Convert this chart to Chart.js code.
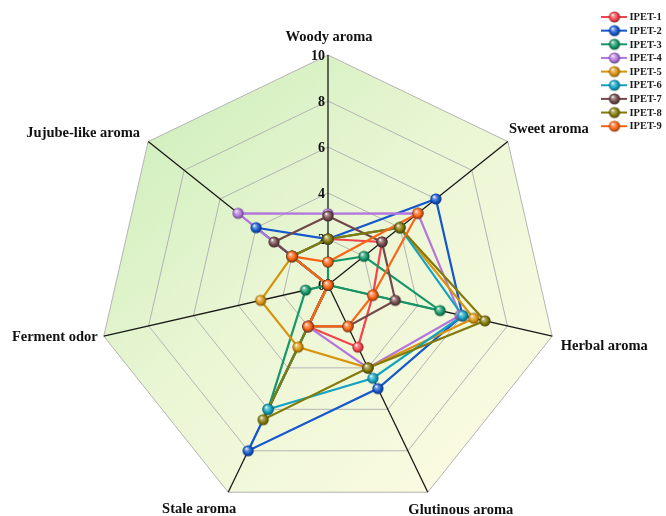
<!DOCTYPE html>
<html>
<head>
<meta charset="utf-8">
<script src="https://cdn.jsdelivr.net/npm/chart.js@4.4.1/dist/chart.umd.min.js"></script>
<style>
  html, body { margin: 0; padding: 0; background: #ffffff; }
  #wrap { position: relative; width: 666px; height: 516px; }
</style>
</head>
<body>
<div id="wrap"><canvas id="radar"></canvas></div>
<script>
// Sensory attributes (clockwise from the top)
const attributes = ['Woody aroma', 'Sweet aroma', 'Herbal aroma', 'Glutinous aroma', 'Stale aroma', 'Ferment odor', 'Jujube-like aroma'];
const tickValues = [0, 2, 4, 6, 8, 10];
const sampleNames = ['IPET-1', 'IPET-2', 'IPET-3', 'IPET-4', 'IPET-5', 'IPET-6', 'IPET-7', 'IPET-8', 'IPET-9'];

// Intensity scores, one value per attribute
const ipet1 = [2, 3, 2, 3, 2, 0, 2];
const ipet2 = [2, 6, 6, 5, 8, 0, 4];
const ipet3 = [1, 2, 5, 0, 6, 1, 0];
const ipet4 = [3.1, 5, 5.9, 4, 2, 0, 5];
const ipet5 = [2, 4, 6.5, 4, 3, 3, 2];
const ipet6 = [2, 4, 6, 4.5, 6, 0, 2];
const ipet7 = [3, 3, 3, 2, 2, 0, 3];
const ipet8 = [2, 4, 7, 4, 6.5, 0, 2];
const ipet9 = [1, 5, 2, 2, 2, 0, 2];
const seriesValues = [ipet1, ipet2, ipet3, ipet4, ipet5, ipet6, ipet7, ipet8, ipet9];

const seriesColors = ['#f2444c', '#1558cc', '#16976a', '#b276dc', '#d8930c', '#12a3c2', '#72494b', '#837a0a', '#fb6516'];

function mix(hex, target, t) {
  const n = parseInt(hex.slice(1), 16);
  const r = (n >> 16) & 255, g = (n >> 8) & 255, b = n & 255;
  const m = v => Math.round(v + (target - v) * t);
  return 'rgb(' + m(r) + ',' + m(g) + ',' + m(b) + ')';
}

// Glossy ball marker
function makeBall(color, r) {
  const s = Math.ceil(r * 2 + 2);
  const cv = document.createElement('canvas');
  cv.width = s; cv.height = s;
  const g = cv.getContext('2d');
  const c = s / 2;
  const grad = g.createRadialGradient(c - r * 0.35, c - r * 0.4, r * 0.05, c, c, r);
  grad.addColorStop(0, '#ffffff');
  grad.addColorStop(0.22, mix(color, 255, 0.45));
  grad.addColorStop(0.65, color);
  grad.addColorStop(1, mix(color, 0, 0.45));
  g.fillStyle = grad;
  g.beginPath(); g.arc(c, c, r, 0, Math.PI * 2); g.fill();
  return cv;
}
const balls = seriesColors.map(c => makeBall(c, 5.6));

const lineSets = seriesValues.map((vals, i) => ({
  label: sampleNames[i],
  data: vals,
  borderColor: seriesColors[i],
  backgroundColor: 'rgba(0,0,0,0)',
  borderWidth: 2.2,
  fill: false,
  pointRadius: 0,
  pointHoverRadius: 0,
  order: 20 - i
}));
const markerSets = seriesValues.map((vals, i) => ({
  label: sampleNames[i] + ' points',
  data: vals,
  showLine: false,
  fill: false,
  borderColor: seriesColors[i],
  backgroundColor: 'rgba(0,0,0,0)',
  pointBackgroundColor: seriesColors[i],
  pointStyle: balls[i],
  pointRadius: 6,
  pointHoverRadius: 6,
  order: 10 - i
}));

const serif = '"Liberation Serif", "Times New Roman", serif';

// Pale green-to-yellow backdrop inside the outer ring
const backdrop = {
  id: 'backdrop',
  beforeDraw(chart) {
    const s = chart.scales.r, ctx = chart.ctx;
    const n = attributes.length;
    const pts = [];
    for (let i = 0; i < n; i++) pts.push(s.getPointPosition(i, s.drawingArea));
    const grad = ctx.createLinearGradient(s.xCenter - 190, s.yCenter - 200, s.xCenter + 170, s.yCenter + 200);
    grad.addColorStop(0, '#cdeebb');
    grad.addColorStop(0.45, '#eaf6d4');
    grad.addColorStop(1, '#fcfbe2');
    ctx.save();
    ctx.beginPath();
    pts.forEach((p, i) => i ? ctx.lineTo(p.x, p.y) : ctx.moveTo(p.x, p.y));
    ctx.closePath();
    ctx.fillStyle = grad;
    ctx.fill();
    ctx.restore();
  }
};

// Value labels along the vertical axis
const axisNumbers = {
  id: 'axisNumbers',
  beforeDatasetsDraw(chart) {
    const s = chart.scales.r, ctx = chart.ctx;
    ctx.save();
    ctx.font = 'bold 14px ' + serif;
    ctx.fillStyle = '#111';
    ctx.textAlign = 'right';
    ctx.textBaseline = 'middle';
    tickValues.forEach(v => {
      const y = s.yCenter - s.getDistanceFromCenterForValue(v);
      ctx.fillText(String(v), s.xCenter - 3, y + 1);
    });
    ctx.restore();
  }
};

// Attribute names placed around the outer vertices
const labelOffsets = [[1, -18], [41, -12], [52, 10.5], [33, 18], [-29, 17], [-49, 1.5], [-65, -8.5]];
const attributeNames = {
  id: 'attributeNames',
  afterDraw(chart) {
    const s = chart.scales.r, ctx = chart.ctx;
    ctx.save();
    ctx.font = 'bold 14.5px ' + serif;
    ctx.fillStyle = '#111';
    ctx.textAlign = 'center';
    ctx.textBaseline = 'middle';
    attributes.forEach((name, i) => {
      const p = s.getPointPosition(i, s.drawingArea);
      ctx.fillText(name, p.x + labelOffsets[i][0], p.y + labelOffsets[i][1]);
    });
    ctx.restore();
  }
};

// Sample key in the top-right corner
const sampleKey = {
  id: 'sampleKey',
  afterDraw(chart) {
    const ctx = chart.ctx;
    ctx.save();
    ctx.font = 'bold 10.5px ' + serif;
    ctx.textAlign = 'left';
    ctx.textBaseline = 'middle';
    sampleNames.forEach((name, i) => {
      const y = 17 + i * 13.65;
      ctx.strokeStyle = seriesColors[i];
      ctx.lineWidth = 2;
      ctx.beginPath(); ctx.moveTo(601, y); ctx.lineTo(627, y); ctx.stroke();
      const b = balls[i];
      ctx.drawImage(b, 614.5 - b.width / 2, y - b.height / 2);
      ctx.fillStyle = '#1a1a1a';
      ctx.fillText(name, 629.5, y + 0.5);
    });
    ctx.restore();
  }
};

new Chart(document.getElementById('radar'), {
  type: 'radar',
  data: { labels: attributes, datasets: lineSets.concat(markerSets) },
  options: {
    responsive: true,
    maintainAspectRatio: false,
    animation: false,
    layout: { padding: { left: 98, right: 108, top: 55, bottom: 1 } },
    plugins: { legend: { display: false }, tooltip: { enabled: false }, filler: { propagate: false } },
    scales: {
      r: {
        min: 0,
        max: 10,
        ticks: { stepSize: 2, display: false },
        pointLabels: { display: false },
        grid: { color: '#b4b4b4', lineWidth: 1 },
        angleLines: { color: '#1a1a1a', lineWidth: 1.3 }
      }
    }
  },
  plugins: [backdrop, axisNumbers, attributeNames, sampleKey]
});
</script>
</body>
</html>
